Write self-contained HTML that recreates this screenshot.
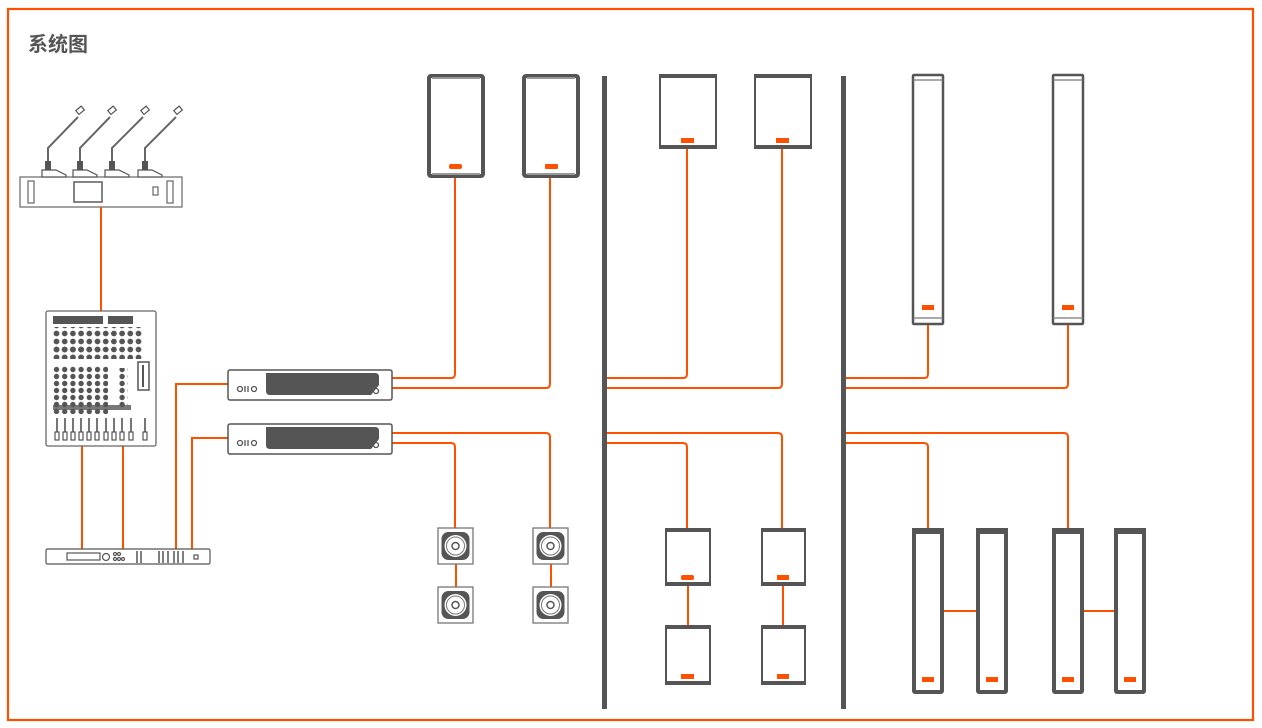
<!DOCTYPE html>
<html><head><meta charset="utf-8"><style>
html,body{margin:0;padding:0;background:#fff;width:1262px;height:728px;overflow:hidden}
</style></head><body>
<svg width="1262" height="728" viewBox="0 0 1262 728" xmlns="http://www.w3.org/2000/svg">
<defs>
<pattern id="knobs" x="53" y="330" width="8.2" height="8" patternUnits="userSpaceOnUse"><circle cx="3.5" cy="3.5" r="2.9" fill="#555"/></pattern>
<pattern id="knobs2" x="53" y="366" width="8.2" height="7" patternUnits="userSpaceOnUse"><circle cx="3.5" cy="3.5" r="2.7" fill="#555"/></pattern>
</defs>
<rect x="8" y="9" width="1245" height="711" fill="none" stroke="#ff5000" stroke-width="2.2"/>
<text x="28" y="51" font-family="Liberation Sans, Noto Sans CJK SC, sans-serif" font-size="20" font-weight="bold" fill="#555">系统图</text>

<!-- mic station -->
<g stroke="#666" fill="none" stroke-width="1.2">
<rect x="20" y="177" width="162" height="30" fill="#fff"/>
<rect x="28" y="181" width="6" height="22"/>
<rect x="167" y="181" width="6" height="22"/>
<rect x="74" y="182" width="28" height="20" stroke-width="1.6"/>
<rect x="153" y="187" width="5" height="8"/>
</g>
<g stroke="#666" fill="none" stroke-width="2">
<path d="M48 170 V148 L78 117"/><path d="M80 170 V148 L110 117"/><path d="M112 170 V148 L143 117"/><path d="M145 170 V148 L176 117"/>
</g>
<g fill="#555">
<rect x="45" y="161" width="6" height="10"/><rect x="77" y="161" width="6" height="10"/><rect x="109" y="161" width="6" height="10"/><rect x="142" y="161" width="6" height="10"/>
</g>
<g fill="#fff" stroke="#555" stroke-width="1.2">
<path d="M42 177 V170 H56 L66 175 V177Z"/><path d="M73 177 V170 H87 L97 175 V177Z"/><path d="M105 177 V170 H119 L129 175 V177Z"/><path d="M138 177 V170 H152 L162 175 V177Z"/>
<rect x="77" y="108" width="7" height="5" transform="rotate(-40 80 111)"/><rect x="109" y="108" width="7" height="5" transform="rotate(-40 112 111)"/><rect x="142" y="108" width="7" height="5" transform="rotate(-40 145 111)"/><rect x="175" y="108" width="7" height="5" transform="rotate(-40 178 111)"/>
</g>

<!-- orange wires -->
<g stroke="#ff5000" stroke-width="2" fill="none">
<path d="M101 207 V311"/>
<path d="M82 446 V549"/><path d="M123 446 V549"/>
<path d="M176 549 V384 H228"/><path d="M192 549 V438 H228"/>
<path d="M392 378 H451 Q455 378 455 374 V178"/>
<path d="M392 388 H546 Q550 388 550 384 V178"/>
<path d="M392 433 H546 Q550 433 550 437 V528"/>
<path d="M392 443 H451 Q455 443 455 447 V528"/>
<path d="M456 564 V587"/><path d="M551 564 V587"/>
<path d="M606 378 H683 Q687 378 687 374 V149"/>
<path d="M606 388 H778 Q782 388 782 384 V149"/>
<path d="M606 433 H778 Q782 433 782 437 V528"/>
<path d="M606 443 H683 Q687 443 687 447 V528"/>
<path d="M688 586 V625"/><path d="M783 586 V625"/>
<path d="M845 378 H924 Q928 378 928 374 V325"/>
<path d="M845 388 H1064 Q1068 388 1068 384 V325"/>
<path d="M845 433 H1064 Q1068 433 1068 437 V528"/>
<path d="M845 443 H924 Q928 443 928 447 V528"/>
<path d="M944 611 H976"/><path d="M1084 611 H1114"/>
</g>

<!-- mixer -->
<rect x="46" y="311" width="110" height="135" rx="2" fill="#fff" stroke="#666" stroke-width="1.3"/>
<rect x="53" y="316" width="50" height="8" fill="#555"/>
<rect x="108" y="316" width="25" height="8" fill="#555"/>
<rect x="53" y="327" width="90" height="32" fill="url(#knobs)"/>
<rect x="53" y="345" width="50" height="12" fill="url(#knobs)"/>
<rect x="53" y="366" width="55" height="48" fill="url(#knobs2)"/>
<rect x="118" y="368" width="10" height="40" fill="url(#knobs2)"/>
<rect x="138" y="362" width="11" height="28" fill="#fff" stroke="#555" stroke-width="1.5"/>
<rect x="142" y="365" width="2" height="22" fill="#555"/>
<rect x="53" y="405" width="78" height="5" fill="#555" opacity=".8"/>
<g stroke="#555" stroke-width="1.6">
<path d="M57 418 V440 M65 418 V440 M73 418 V440 M81 418 V440 M89 418 V440 M97 418 V440 M106 418 V440 M114 418 V440 M122 418 V440 M131 418 V440 M145 418 V440"/>
</g>
<g fill="#fff" stroke="#555" stroke-width="1.2">
<rect x="55" y="432" width="4" height="8"/><rect x="63" y="432" width="4" height="8"/><rect x="71" y="432" width="4" height="8"/><rect x="79" y="432" width="4" height="8"/><rect x="87" y="432" width="4" height="8"/><rect x="95" y="432" width="4" height="8"/><rect x="104" y="432" width="4" height="8"/><rect x="112" y="432" width="4" height="8"/><rect x="120" y="432" width="4" height="8"/><rect x="129" y="432" width="4" height="8"/><rect x="143" y="432" width="4" height="8"/>
</g>

<!-- DSP -->
<g stroke="#555" fill="#fff" stroke-width="1.2">
<rect x="46" y="549" width="164" height="15" rx="1.5"/>
<rect x="67" y="553" width="33" height="7"/>
<circle cx="106" cy="557" r="3.5"/>
<circle cx="115" cy="554" r="1.5"/><circle cx="119" cy="554" r="1.5"/><circle cx="115" cy="559" r="1.5"/><circle cx="119" cy="559" r="1.5"/><circle cx="123" cy="559" r="1.5"/>
<rect x="194" y="555" width="4" height="4"/>
</g>
<g stroke="#555" stroke-width="1.5"><path d="M137 551 V563 M141 551 V563 M159 551 V563 M163 551 V563 M168 551 V563 M174 551 V563 M178 551 V563 M183 551 V563"/></g>

<!-- amps -->
<g>
<rect x="228" y="370" width="164" height="30" rx="2" fill="#fff" stroke="#555" stroke-width="1.5"/>
<path d="M266 373 H375 Q379 373 379 377 V385 L371 395 H270 Q266 395 266 391Z" fill="#555"/>
<circle cx="240" cy="389" r="2.5" fill="none" stroke="#555" stroke-width="1.3"/><path d="M245 386 V392 M248 386 V392" stroke="#555" stroke-width="1.3"/><circle cx="254" cy="389" r="2.5" fill="none" stroke="#555" stroke-width="1.3"/>
<circle cx="376" cy="391" r="2.5" fill="none" stroke="#555" stroke-width="1.3"/>
<rect x="228" y="424" width="164" height="30" rx="2" fill="#fff" stroke="#555" stroke-width="1.5"/>
<path d="M266 427 H375 Q379 427 379 431 V439 L371 449 H270 Q266 449 266 445Z" fill="#555"/>
<circle cx="240" cy="443" r="2.5" fill="none" stroke="#555" stroke-width="1.3"/><path d="M245 440 V446 M248 440 V446" stroke="#555" stroke-width="1.3"/><circle cx="254" cy="443" r="2.5" fill="none" stroke="#555" stroke-width="1.3"/>
<circle cx="376" cy="445" r="2.5" fill="none" stroke="#555" stroke-width="1.3"/>
</g>

<!-- top speakers section 1 -->
<g fill="#fff" stroke="#555">
<rect x="429" y="76" width="54" height="100" rx="2" stroke-width="4"/>
<rect x="524" y="76" width="54" height="100" rx="2" stroke-width="4"/>
<path d="M432 78 H480 M432 174 H480 M527 78 H575 M527 174 H575" stroke="#999" stroke-width="2"/>
</g>
<rect x="449" y="164" width="13" height="5" rx="2" fill="#ff5000"/>
<rect x="545" y="164" width="13" height="5" rx="1" fill="#ff5000"/>

<!-- monitors -->
<g>
<g transform="translate(438,528)"><rect width="35" height="36" fill="#fff" stroke="#777" stroke-width="1.3"/><rect x="3.5" y="4" width="28" height="28" rx="7" fill="#555"/><circle cx="17.5" cy="18" r="11" fill="#fff"/><circle cx="17.5" cy="18" r="9" fill="none" stroke="#777"/><circle cx="17.5" cy="18" r="3.5" fill="none" stroke="#555" stroke-width="1.5"/></g>
<g transform="translate(438,587)"><rect width="35" height="36" fill="#fff" stroke="#777" stroke-width="1.3"/><rect x="3.5" y="4" width="28" height="28" rx="7" fill="#555"/><circle cx="17.5" cy="18" r="11" fill="#fff"/><circle cx="17.5" cy="18" r="9" fill="none" stroke="#777"/><circle cx="17.5" cy="18" r="3.5" fill="none" stroke="#555" stroke-width="1.5"/></g>
<g transform="translate(533,528)"><rect width="35" height="36" fill="#fff" stroke="#777" stroke-width="1.3"/><rect x="3.5" y="4" width="28" height="28" rx="7" fill="#555"/><circle cx="17.5" cy="18" r="11" fill="#fff"/><circle cx="17.5" cy="18" r="9" fill="none" stroke="#777"/><circle cx="17.5" cy="18" r="3.5" fill="none" stroke="#555" stroke-width="1.5"/></g>
<g transform="translate(533,587)"><rect width="35" height="36" fill="#fff" stroke="#777" stroke-width="1.3"/><rect x="3.5" y="4" width="28" height="28" rx="7" fill="#555"/><circle cx="17.5" cy="18" r="11" fill="#fff"/><circle cx="17.5" cy="18" r="9" fill="none" stroke="#777"/><circle cx="17.5" cy="18" r="3.5" fill="none" stroke="#555" stroke-width="1.5"/></g>
</g>

<!-- dividers -->
<rect x="602" y="76" width="5" height="633" fill="#555"/>
<rect x="841" y="76" width="5" height="633" fill="#555"/>

<!-- section 2 speakers -->
<g fill="#fff" stroke="#555" stroke-width="2">
<rect x="660" y="75" width="56" height="73" rx="2"/>
<rect x="755" y="75" width="56" height="73" rx="2"/>
<rect x="666" y="529" width="44" height="56" rx="2"/>
<rect x="762" y="529" width="43" height="56" rx="2"/>
<rect x="666" y="626" width="44" height="57" rx="2"/>
<rect x="762" y="626" width="43" height="57" rx="2"/>
</g>
<g fill="#555">
<rect x="659" y="74" width="58" height="4"/><rect x="659" y="145" width="58" height="4"/>
<rect x="754" y="74" width="58" height="4"/><rect x="754" y="145" width="58" height="4"/>
<rect x="665" y="528" width="46" height="4"/><rect x="665" y="582" width="46" height="4"/>
<rect x="761" y="528" width="45" height="4"/><rect x="761" y="582" width="45" height="4"/>
<rect x="665" y="625" width="46" height="4"/><rect x="665" y="681" width="46" height="4"/>
<rect x="761" y="625" width="45" height="4"/><rect x="761" y="681" width="45" height="4"/>
</g>
<g fill="#ff5000">
<rect x="681" y="138" width="13" height="5"/><rect x="776" y="138" width="13" height="5"/>
<rect x="681" y="575" width="13" height="5" rx="2"/><rect x="777" y="575" width="12" height="5"/>
<rect x="681" y="674" width="13" height="5"/><rect x="777" y="674" width="12" height="5"/>
</g>

<!-- section 3 columns -->
<g fill="#fff" stroke="#555" stroke-width="2.5">
<rect x="913" y="75" width="30" height="249" rx="1"/>
<rect x="1053" y="75" width="30" height="249" rx="1"/>
</g>
<g stroke="#777" stroke-width="1.2">
<path d="M913 80 H943 M913 318 H943 M1053 80 H1083 M1053 318 H1083"/>
</g>
<rect x="922" y="305" width="12" height="5" fill="#ff5000"/>
<rect x="1062" y="305" width="12" height="5" fill="#ff5000"/>

<g fill="#fff" stroke="#555" stroke-width="4">
<rect x="914" y="530" width="28" height="162" rx="1"/>
<rect x="978" y="530" width="28" height="162" rx="1"/>
<rect x="1054" y="530" width="28" height="162" rx="1"/>
<rect x="1116" y="530" width="28" height="162" rx="1"/>
</g>
<g fill="#555"><rect x="912" y="528" width="32" height="6"/><rect x="976" y="528" width="32" height="6"/><rect x="1052" y="528" width="32" height="6"/><rect x="1114" y="528" width="32" height="6"/></g>
<g fill="#ff5000"><rect x="922" y="677" width="12" height="5"/><rect x="986" y="677" width="12" height="5"/><rect x="1062" y="677" width="12" height="5"/><rect x="1124" y="677" width="12" height="5"/></g>
</svg>
</body></html>
